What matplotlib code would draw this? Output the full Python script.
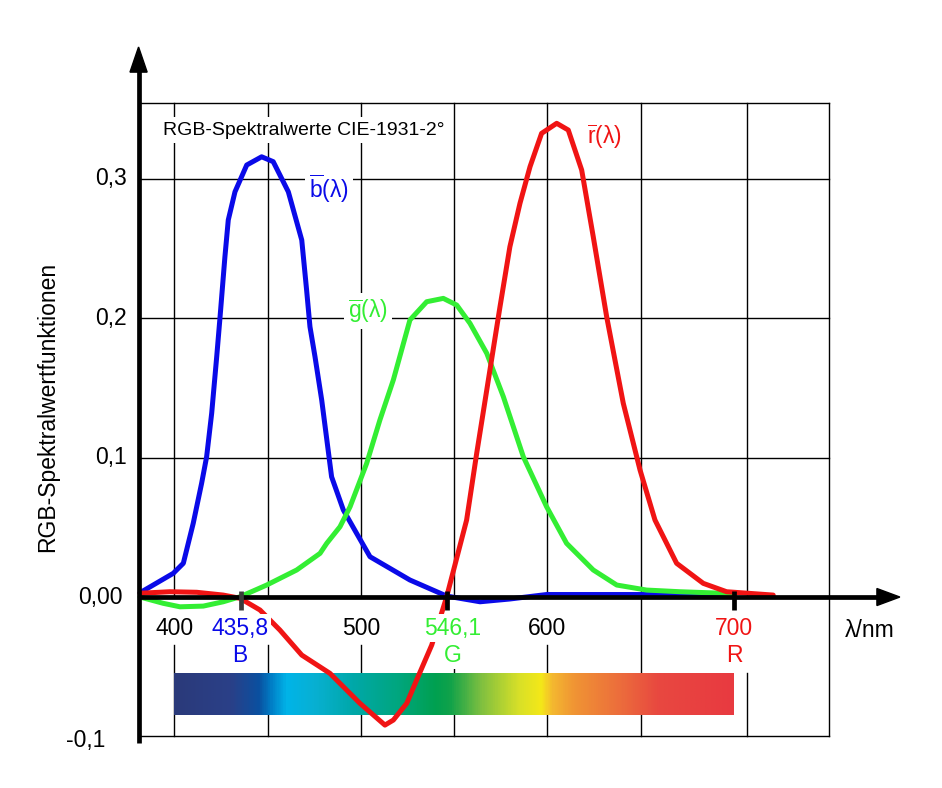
import numpy as np
import matplotlib
matplotlib.use('Agg')
import matplotlib.pyplot as plt
from matplotlib.colors import LinearSegmentedColormap
from matplotlib.patches import Polygon

plt.rcParams['font.family'] = ['Liberation Sans', 'DejaVu Sans']
plt.rcParams['mathtext.fontset'] = 'custom'
plt.rcParams['mathtext.rm'] = 'Liberation Sans'
plt.rcParams['mathtext.it'] = 'Liberation Sans:italic'

# ── Data (wavelength in nm, tristimulus value) ──────────────────────────────
B_NM = [381.6, 399.4, 404.8, 410.1, 414.6, 417.3, 420.0, 422.7, 424.5, 427.1,
        428.9, 432.5, 438.8, 446.8, 453.0, 461.1, 468.3, 470.9, 472.7, 475.4,
        479.0, 484.3, 490.6, 497.7, 504.9, 526.3, 546.0, 563.9, 579.9, 599.6,
        653.2, 700.0]
B_VAL = [0.0031, 0.0170, 0.0242, 0.0528, 0.0815, 0.1006, 0.1317, 0.1723, 0.2009, 0.2439,
         0.2703, 0.2905, 0.3097, 0.3156, 0.3121, 0.2905, 0.2559, 0.2201, 0.1938, 0.1723,
         0.1412, 0.0862, 0.0624, 0.0457, 0.0289, 0.0122, 0.0007, -0.0034, -0.0014, 0.0018,
         0.0018, 0.0010]

G_NM = [381.6, 394.0, 403.0, 415.5, 426.2, 435.2, 449.5, 465.6, 478.1, 481.7,
        488.8, 494.2, 503.1, 510.2, 517.4, 526.3, 535.3, 544.2, 551.4, 558.5,
        567.5, 576.4, 587.1, 599.6, 610.3, 624.6, 637.2, 653.2, 671.1, 694.3,
        700.6]
G_VAL = [0.0000, -0.0045, -0.0070, -0.0065, -0.0034, 0.0002, 0.0086, 0.0194, 0.0313, 0.0385,
         0.0504, 0.0647, 0.0958, 0.1269, 0.1556, 0.1986, 0.2117, 0.2141, 0.2093, 0.1962,
         0.1747, 0.1436, 0.1006, 0.0647, 0.0385, 0.0194, 0.0086, 0.0050, 0.0038, 0.0027,
         0.0020]

R_NM = [381.6, 397.6, 412.0, 426.2, 435.2, 445.9, 456.6, 468.3, 483.4, 499.5,
        512.9, 517.4, 524.6, 529.9, 538.0, 546.0, 556.7, 562.1, 569.2, 574.6,
        579.9, 585.3, 590.7, 596.9, 605.0, 611.2, 618.4, 624.6, 631.8, 640.7,
        649.7, 657.7, 669.3, 683.6, 696.1, 721.1]
R_VAL = [0.0027, 0.0038, 0.0034, 0.0014, -0.0009, -0.0093, -0.0237, -0.0416, -0.0547, -0.0762,
         -0.0918, -0.0882, -0.0762, -0.0595, -0.0344, 0.0002, 0.0552, 0.1030, 0.1627, 0.2081,
         0.2511, 0.2822, 0.3085, 0.3324, 0.3396, 0.3348, 0.3061, 0.2583, 0.2009, 0.1389,
         0.0910, 0.0552, 0.0242, 0.0098, 0.0038, 0.0014]

Y_TICKS = [0.3, 0.2, 0.1, 0.0, -0.1]
Y_TICK_LABELS = ["0,3", "0,2", "0,1", "0,00", "-0,1"]
X_TICKS = [400, 500, 600]
PRIMARIES = [435.8, 546.1, 700.0]
PRIMARY_LABELS = ["435,8", "546,1", "700"]
PRIMARY_NAMES = ["B", "G", "R"]

# spectrum strip colour stops
SPEC_NM = [400, 430, 445, 452, 460, 475, 495, 520, 540, 548, 565, 585, 597, 603, 615, 640, 660, 700]
SPEC_COL = ["#2b3a7a", "#2a4088", "#0a50a0", "#0080c8", "#00b4e8", "#08b0d2", "#00a8aa",
            "#00a67e", "#00a050", "#10a24a", "#80c040", "#d8e028", "#f4e818", "#f4b830",
            "#f09434", "#ec6c3c", "#e84840", "#e83a40"]

BLUE = "#0a0ae8"
GREEN = "#33ee33"
RED = "#f01414"

# ── Figure ──────────────────────────────────────────────────────────────────
fig = plt.figure(figsize=(9.42, 7.88), dpi=100)
ax = fig.add_axes([0, 0, 1, 1])
ax.set_xlim(306.5, 811.6)
ax.set_ylim(-0.1369, 0.4280)
ax.axis('off')

X_AX = 380.8      # position of the vertical axis
X_RIGHT = 751.0   # right edge of grid box
Y_TOP = 0.354
Y_BOT = -0.0996
FS = 16.5

# grid
for y in [0.1, 0.2, 0.3, Y_TOP, Y_BOT]:
    ax.plot([X_AX, X_RIGHT], [y, y], color='black', lw=1.0, zorder=1)
ax.plot([X_RIGHT, X_RIGHT], [Y_BOT, Y_TOP], color='black', lw=1.0, zorder=1)
grid_x = [400, 450, 500, 550, 600, 650, 707]
lower_top = [-0.0344, -0.0344, -0.0344, -0.0344, -0.0344, 0.0, -0.0545]
for gx, lt in zip(grid_x, lower_top):
    ax.plot([gx, gx], [0, Y_TOP], color='black', lw=1.0, zorder=1)
    ax.plot([gx, gx], [Y_BOT, lt], color='black', lw=1.0, zorder=1)

# spectrum strip
cmap = LinearSegmentedColormap.from_list(
    "spec", [((n - 400) / 300, c) for n, c in zip(SPEC_NM, SPEC_COL)])
grad = np.linspace(0, 1, 600)[None, :]
ax.imshow(grad, cmap=cmap, aspect='auto', extent=[400, 700, -0.0843, -0.0543],
          zorder=2, interpolation='bilinear')

# curves
for xs, ys, c in [(B_NM, B_VAL, BLUE), (G_NM, G_VAL, GREEN), (R_NM, R_VAL, RED)]:
    ax.plot(xs, ys, color=c, lw=3.6, solid_joinstyle='round',
            solid_capstyle='round', zorder=3)

# axes with arrows
ax.plot([X_AX, X_AX], [-0.1047, 0.3775], color='black', lw=3.4,
        solid_capstyle='butt', zorder=5)
ax.add_patch(Polygon([(X_AX - 4.6, 0.3763), (X_AX + 4.6, 0.3763), (X_AX, 0.3943)],
                     closed=True, color='black', zorder=5))
ax.plot([X_AX, 777.5], [0, 0], color='black', lw=3.4, solid_capstyle='butt', zorder=5)
ax.add_patch(Polygon([(776.7, -0.0061), (776.7, 0.0061), (789.0, 0)],
                     closed=True, color='black', zorder=5))

# primary tick marks
for px, c in zip(PRIMARIES, ["#3a3a3a", "black", "black"]):
    ax.plot([px, px], [0.0043, -0.0093], color=c, lw=3.4, solid_capstyle='butt', zorder=6)

box = dict(facecolor='white', edgecolor='none', pad=1.5)

# y tick labels
for v, lab in zip(Y_TICKS, Y_TICK_LABELS):
    xr = 374.6 if v > 0 else (372.0 if v == 0 else 362.8)
    yy = v if v >= 0 else -0.1025
    ax.text(xr, yy, lab, ha='right', va='center', fontsize=FS, zorder=7)

# x tick labels
for v in X_TICKS:
    ax.text(v, -0.0222, str(v), ha='center', va='center', fontsize=FS, zorder=7, bbox=box)
lab_x = [435.3, 549.3, 700.3]
for lx, lab, name, c in zip(lab_x, PRIMARY_LABELS, PRIMARY_NAMES, [BLUE, GREEN, RED]):
    ax.text(lx, -0.0222, lab, ha='center', va='center', fontsize=FS, color=c,
            zorder=7, bbox=box)
    ax.text(lx, -0.0416, name, ha='center', va='center', fontsize=FS, color=c,
            zorder=7, bbox=box)
ax.text(773.0, -0.0237, "λ/nm", ha='center', va='center', fontsize=FS, zorder=7)

# axis label and title
ax.text(332.2, 0.1366, "RGB-Spektralwertfunktionen", rotation=90, ha='center',
        va='center', fontsize=FS)
ax.text(393.9, 0.3348, "RGB-Spektralwerte CIE-1931-2°", ha='left', va='center',
        fontsize=14, zorder=7, bbox=dict(facecolor='white', edgecolor='none', pad=3))

# curve labels
ax.text(482.9, 0.2930, r"$\overline{\mathrm{b}}$(λ)", ha='center', va='center',
        fontsize=FS, color=BLUE, zorder=7, bbox=dict(facecolor='white', edgecolor='none', pad=3))
ax.text(503.8, 0.2050, r"$\overline{\mathrm{g}}$(λ)", ha='center', va='center',
        fontsize=FS, color=GREEN, zorder=7, bbox=dict(facecolor='white', edgecolor='none', pad=3))
ax.text(630.8, 0.3300, r"$\overline{\mathrm{r}}$(λ)", ha='center', va='center',
        fontsize=FS, color=RED, zorder=7)

fig.savefig("out.png", dpi=100)
